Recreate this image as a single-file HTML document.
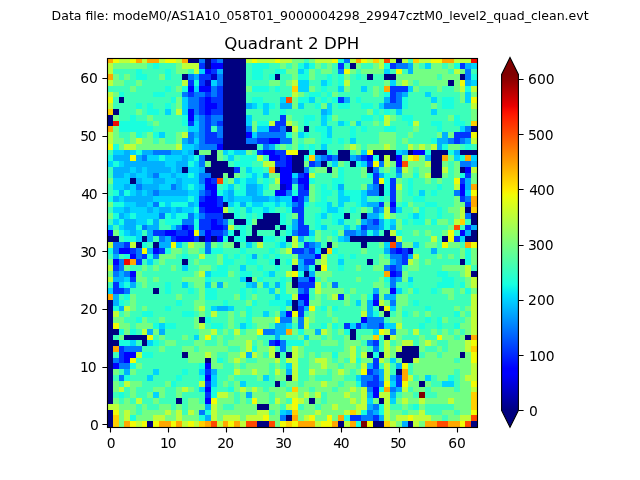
<!DOCTYPE html>
<html lang="en"><head><meta charset="utf-8"><title>Quadrant 2 DPH</title>
<style>html,body{margin:0;padding:0;background:#fff}svg{display:block}text{font-family:"DejaVu Sans","Liberation Sans",sans-serif;fill:#000}.t{font-size:13.89px}.ti{font-size:16.67px}.su{font-size:12.53px}</style></head>
<body><svg width="640" height="480" viewBox="0 0 640 480">
<rect width="640" height="480" fill="#fff"/>
<g shape-rendering="crispEdges">
<path fill="#000080" d="M188 58h11v5h-11zM205 58h6v5h-6zM223 58h23v5h-23zM396 58h6v5h-6zM205 63h6v6h-6zM223 63h23v6h-23zM350 63h6v6h-6zM223 69h23v5h-23zM182 74h6v6h-6zM223 74h23v6h-23zM275 74h5v6h-5zM367 74h6v6h-6zM384 74h12v6h-12zM460 74h5v6h-5zM223 80h23v6h-23zM448 80h6v6h-6zM223 86h23v6h-23zM223 92h23v5h-23zM119 97h5v6h-5zM223 97h23v6h-23zM223 103h23v6h-23zM113 109h6v6h-6zM223 109h23v6h-23zM107 115h6v6h-6zM223 115h23v6h-23zM107 121h6v5h-6zM223 121h23v5h-23zM223 126h23v6h-23zM286 126h6v6h-6zM304 126h5v6h-5zM471 126h7v6h-7zM223 132h23v6h-23zM223 138h23v6h-23zM223 144h34v6h-34zM194 150h5v5h-5zM211 150h6v5h-6zM298 150h11v5h-11zM315 150h12v5h-12zM338 150h12v5h-12zM373 150h23v5h-23zM408 150h5v5h-5zM431 150h17v5h-17zM460 150h18v5h-18zM205 155h12v6h-12zM292 155h12v6h-12zM338 155h12v6h-12zM379 155h5v6h-5zM390 155h6v6h-6zM431 155h11v6h-11zM211 161h17v6h-17zM292 161h12v6h-12zM321 161h6v6h-6zM350 161h6v6h-6zM431 161h11v6h-11zM182 167h6v6h-6zM205 167h29v6h-29zM275 167h5v6h-5zM292 167h12v6h-12zM327 167h5v6h-5zM367 167h6v6h-6zM431 167h11v6h-11zM460 167h5v6h-5zM211 173h12v5h-12zM228 173h6v5h-6zM431 173h11v5h-11zM130 178h6v6h-6zM379 184h5v6h-5zM379 190h5v6h-5zM223 202h5v5h-5zM465 207h6v6h-6zM223 213h11v6h-11zM263 213h17v6h-17zM344 213h6v6h-6zM361 213h6v6h-6zM471 213h7v6h-7zM234 219h12v6h-12zM257 219h23v6h-23zM471 219h7v6h-7zM252 225h23v5h-23zM280 225h6v5h-6zM234 230h6v6h-6zM252 230h5v6h-5zM275 230h5v6h-5zM384 230h6v6h-6zM471 230h7v6h-7zM107 236h12v6h-12zM142 236h5v6h-5zM199 236h6v6h-6zM211 236h6v6h-6zM228 236h6v6h-6zM246 236h17v6h-17zM286 236h6v6h-6zM350 236h46v6h-46zM442 236h6v6h-6zM465 236h13v6h-13zM136 242h6v6h-6zM153 242h6v6h-6zM234 242h6v6h-6zM327 242h5v6h-5zM361 242h6v6h-6zM321 248h6v6h-6zM182 259h6v6h-6zM275 259h5v6h-5zM367 259h6v6h-6zM460 259h5v6h-5zM292 265h6v6h-6zM315 265h6v6h-6zM304 271h5v6h-5zM471 271h7v6h-7zM246 277h6v5h-6zM292 277h6v5h-6zM292 282h6v6h-6zM153 288h6v6h-6zM107 300h6v6h-6zM292 300h6v6h-6zM107 306h6v5h-6zM292 306h6v5h-6zM379 306h5v5h-5zM107 311h6v6h-6zM384 311h6v6h-6zM107 317h6v6h-6zM199 317h6v6h-6zM107 323h6v6h-6zM107 329h12v6h-12zM350 329h6v6h-6zM107 335h6v5h-6zM124 335h23v5h-23zM350 335h6v5h-6zM384 335h6v5h-6zM465 335h6v5h-6zM107 340h12v6h-12zM142 340h5v6h-5zM107 346h6v6h-6zM402 346h17v6h-17zM107 352h6v6h-6zM182 352h6v6h-6zM275 352h5v6h-5zM286 352h6v6h-6zM367 352h6v6h-6zM379 352h5v6h-5zM396 352h23v6h-23zM460 352h5v6h-5zM107 358h6v5h-6zM205 358h6v5h-6zM402 358h11v5h-11zM107 363h6v6h-6zM107 369h6v6h-6zM396 369h6v6h-6zM107 375h6v6h-6zM286 375h6v6h-6zM107 381h6v6h-6zM275 381h5v6h-5zM419 381h6v6h-6zM107 387h6v5h-6zM107 392h6v6h-6zM107 398h6v6h-6zM176 398h6v6h-6zM309 398h6v6h-6zM379 398h5v6h-5zM257 404h12v6h-12zM107 410h6v5h-6zM107 415h6v6h-6zM286 415h6v6h-6zM107 421h6v7h-6zM147 421h6v7h-6zM257 421h12v7h-12zM338 421h6v7h-6zM373 421h11v7h-11zM408 421h5v7h-5zM471 421h7v7h-7z"/>
<path fill="#0000ff" d="M211 63h12v6h-12zM205 69h6v5h-6zM188 86h6v6h-6zM199 86h12v6h-12zM205 97h6v6h-6zM205 103h12v6h-12zM188 109h6v6h-6zM205 109h6v6h-6zM188 115h6v6h-6zM246 132h6v6h-6zM269 138h11v6h-11zM217 144h6v6h-6zM263 150h12v5h-12zM413 150h12v5h-12zM269 155h11v6h-11zM286 155h6v6h-6zM367 155h6v6h-6zM396 155h6v6h-6zM286 161h6v6h-6zM396 161h6v6h-6zM280 167h12v6h-12zM465 167h6v6h-6zM280 173h12v5h-12zM304 173h5v5h-5zM205 178h6v6h-6zM280 178h12v6h-12zM298 178h11v6h-11zM205 184h12v6h-12zM286 184h6v6h-6zM304 184h5v6h-5zM460 184h5v6h-5zM211 190h6v6h-6zM275 190h11v6h-11zM460 190h5v6h-5zM205 196h12v6h-12zM292 196h6v6h-6zM199 202h18v5h-18zM390 202h6v5h-6zM205 207h18v6h-18zM211 219h6v6h-6zM182 225h6v5h-6zM211 225h12v5h-12zM107 230h6v6h-6zM165 230h11v6h-11zM188 230h6v6h-6zM205 230h6v6h-6zM460 230h5v6h-5zM176 236h18v6h-18zM205 236h6v6h-6zM217 236h6v6h-6zM119 248h11v6h-11zM153 248h6v6h-6zM396 248h6v6h-6zM130 254h6v5h-6zM315 254h6v5h-6zM113 259h6v6h-6zM130 271h6v6h-6zM390 271h6v6h-6zM309 277h6v5h-6zM390 288h6v6h-6zM298 294h11v6h-11zM304 300h5v6h-5zM373 300h6v6h-6zM286 311h6v6h-6zM361 317h6v6h-6zM275 340h5v6h-5zM124 352h12v6h-12zM124 358h6v5h-6zM113 363h6v6h-6zM205 363h6v6h-6zM205 375h6v6h-6zM205 387h6v5h-6zM373 387h6v5h-6zM373 392h6v6h-6zM205 398h6v6h-6z"/>
<path fill="#0034ff" d="M211 58h6v5h-6zM199 63h6v6h-6zM338 63h6v6h-6zM390 63h6v6h-6zM460 63h5v6h-5zM211 69h6v5h-6zM199 74h12v6h-12zM188 80h6v6h-6zM199 80h6v6h-6zM217 86h6v6h-6zM390 86h18v6h-18zM188 92h6v5h-6zM205 92h6v5h-6zM217 92h6v5h-6zM390 92h6v5h-6zM199 97h6v6h-6zM211 97h12v6h-12zM338 97h6v6h-6zM390 97h6v6h-6zM199 103h6v6h-6zM217 103h6v6h-6zM199 109h6v6h-6zM211 109h12v6h-12zM205 115h6v6h-6zM280 115h6v6h-6zM188 121h6v5h-6zM205 121h6v5h-6zM217 121h6v5h-6zM275 121h11v5h-11zM205 126h6v6h-6zM269 126h11v6h-11zM205 132h12v6h-12zM454 132h17v6h-17zM205 138h18v6h-18zM257 138h12v6h-12zM454 138h6v6h-6zM257 150h6v5h-6zM275 150h11v5h-11zM280 155h6v6h-6zM327 155h5v6h-5zM361 155h6v6h-6zM275 161h11v6h-11zM309 161h6v6h-6zM367 161h6v6h-6zM234 167h6v6h-6zM298 173h6v5h-6zM373 173h6v5h-6zM465 173h6v5h-6zM211 178h6v6h-6zM373 178h6v6h-6zM390 178h6v6h-6zM460 178h5v6h-5zM298 184h6v6h-6zM390 184h6v6h-6zM205 190h6v6h-6zM298 190h11v6h-11zM390 190h6v6h-6zM199 196h6v6h-6zM217 196h6v6h-6zM298 196h6v6h-6zM390 196h6v6h-6zM460 196h5v6h-5zM217 202h6v5h-6zM298 202h6v5h-6zM379 202h5v5h-5zM465 202h6v5h-6zM199 207h6v6h-6zM292 207h12v6h-12zM390 207h6v6h-6zM205 213h18v6h-18zM298 213h6v6h-6zM199 219h12v6h-12zM217 219h6v6h-6zM298 219h6v6h-6zM373 219h6v6h-6zM188 225h6v5h-6zM199 225h12v5h-12zM223 225h5v5h-5zM298 225h11v5h-11zM361 225h6v5h-6zM465 225h6v5h-6zM153 230h12v6h-12zM176 230h12v6h-12zM211 230h12v6h-12zM298 230h11v6h-11zM171 236h5v6h-5zM194 236h5v6h-5zM454 236h6v6h-6zM124 242h6v6h-6zM304 242h5v6h-5zM130 248h6v6h-6zM159 248h6v6h-6zM292 248h12v6h-12zM309 248h6v6h-6zM390 248h6v6h-6zM402 248h6v6h-6zM142 254h5v5h-5zM402 254h6v5h-6zM136 259h6v6h-6zM304 259h11v6h-11zM402 259h6v6h-6zM113 265h6v6h-6zM390 265h6v6h-6zM396 271h6v6h-6zM130 277h6v5h-6zM113 282h6v6h-6zM298 282h17v6h-17zM113 288h11v6h-11zM304 288h5v6h-5zM338 294h6v6h-6zM373 294h6v6h-6zM298 306h6v5h-6zM298 311h6v6h-6zM344 323h6v6h-6zM356 323h5v6h-5zM379 323h5v6h-5zM269 340h6v6h-6zM373 340h6v6h-6zM119 346h5v6h-5zM119 352h5v6h-5zM119 358h5v5h-5zM373 358h6v5h-6zM373 363h6v6h-6zM205 369h6v6h-6zM367 369h6v6h-6zM373 375h6v6h-6zM396 375h6v6h-6zM205 381h6v6h-6zM367 381h12v6h-12zM396 381h6v6h-6zM205 392h6v6h-6zM350 415h11v6h-11zM373 415h6v6h-6z"/>
<path fill="#0078ff" d="M199 58h6v5h-6zM217 58h6v5h-6zM344 58h6v5h-6zM396 63h12v6h-12zM338 69h6v5h-6zM465 69h6v5h-6zM188 74h6v6h-6zM217 74h6v6h-6zM465 74h6v6h-6zM217 80h6v6h-6zM211 86h6v6h-6zM182 92h6v5h-6zM194 92h11v5h-11zM211 92h6v5h-6zM396 92h6v5h-6zM188 97h11v6h-11zM396 97h6v6h-6zM188 103h11v6h-11zM384 103h18v6h-18zM194 109h5v6h-5zM199 115h6v6h-6zM211 115h12v6h-12zM199 121h6v5h-6zM211 121h6v5h-6zM199 126h6v6h-6zM217 126h6v6h-6zM246 126h6v6h-6zM280 126h6v6h-6zM465 126h6v6h-6zM188 132h6v6h-6zM199 132h6v6h-6zM217 132h6v6h-6zM257 132h29v6h-29zM188 138h6v6h-6zM199 138h6v6h-6zM246 138h11v6h-11zM280 138h12v6h-12zM448 138h6v6h-6zM460 138h5v6h-5zM199 144h18v6h-18zM263 144h6v6h-6zM153 150h18v5h-18zM142 155h5v6h-5zM199 155h6v6h-6zM321 155h6v6h-6zM332 155h6v6h-6zM356 155h5v6h-5zM199 161h6v6h-6zM315 161h6v6h-6zM379 161h5v6h-5zM460 161h11v6h-11zM304 167h5v6h-5zM373 167h6v6h-6zM396 167h6v6h-6zM153 173h6v5h-6zM199 173h12v5h-12zM199 178h6v6h-6zM292 178h6v6h-6zM136 184h6v6h-6zM171 184h5v6h-5zM373 184h6v6h-6zM153 190h6v6h-6zM199 190h6v6h-6zM286 190h6v6h-6zM367 190h12v6h-12zM454 190h6v6h-6zM465 196h6v6h-6zM153 202h6v5h-6zM292 202h6v5h-6zM373 207h6v6h-6zM159 213h6v6h-6zM188 213h6v6h-6zM199 213h6v6h-6zM465 213h6v6h-6zM182 219h12v6h-12zM223 219h5v6h-5zM367 219h6v6h-6zM142 225h5v5h-5zM176 225h6v5h-6zM367 225h12v5h-12zM199 230h6v6h-6zM223 230h5v6h-5zM292 230h6v6h-6zM344 230h12v6h-12zM361 230h6v6h-6zM159 236h6v6h-6zM113 242h11v6h-11zM205 242h6v6h-6zM309 242h6v6h-6zM396 242h6v6h-6zM113 248h6v6h-6zM136 248h6v6h-6zM205 248h6v6h-6zM304 248h5v6h-5zM136 254h6v5h-6zM153 254h6v5h-6zM298 254h17v5h-17zM390 254h12v5h-12zM119 259h5v6h-5zM396 259h6v6h-6zM119 265h5v6h-5zM304 265h5v6h-5zM384 265h6v6h-6zM396 265h6v6h-6zM113 271h6v6h-6zM124 271h6v6h-6zM298 277h11v5h-11zM390 277h6v5h-6zM332 282h6v6h-6zM390 282h6v6h-6zM124 288h6v6h-6zM298 288h6v6h-6zM298 300h6v6h-6zM390 300h6v6h-6zM280 317h12v6h-12zM298 317h6v6h-6zM367 317h17v6h-17zM298 323h6v6h-6zM367 323h12v6h-12zM263 329h12v6h-12zM390 329h6v6h-6zM280 340h6v6h-6zM367 340h6v6h-6zM124 346h18v6h-18zM280 346h6v6h-6zM373 346h6v6h-6zM113 358h6v5h-6zM119 363h11v6h-11zM373 369h6v6h-6zM119 375h5v6h-5zM361 375h12v6h-12zM361 381h6v6h-6zM379 381h5v6h-5zM367 387h6v5h-6zM390 387h6v5h-6zM373 404h6v6h-6zM199 410h6v5h-6zM367 410h6v5h-6zM280 415h6v6h-6zM361 415h12v6h-12z"/>
<path fill="#00b0ff" d="M408 63h5v6h-5zM465 63h6v6h-6zM217 69h6v5h-6zM408 69h5v5h-5zM194 74h5v6h-5zM465 80h6v6h-6zM402 92h6v5h-6zM344 97h6v6h-6zM384 97h6v6h-6zM246 103h6v6h-6zM280 103h12v6h-12zM321 109h6v6h-6zM194 115h5v6h-5zM194 132h5v6h-5zM442 132h6v6h-6zM182 138h6v6h-6zM437 138h11v6h-11zM465 138h6v6h-6zM194 144h5v6h-5zM269 144h6v6h-6zM437 144h5v6h-5zM124 150h6v5h-6zM142 150h11v5h-11zM171 150h11v5h-11zM188 150h6v5h-6zM402 150h6v5h-6zM454 150h6v5h-6zM113 155h17v6h-17zM136 155h6v6h-6zM182 155h6v6h-6zM315 155h6v6h-6zM350 155h6v6h-6zM425 155h6v6h-6zM124 161h41v6h-41zM176 161h12v6h-12zM471 161h7v6h-7zM113 167h17v6h-17zM136 167h6v6h-6zM147 167h24v6h-24zM176 167h6v6h-6zM199 167h6v6h-6zM113 173h11v5h-11zM130 173h6v5h-6zM147 173h6v5h-6zM171 173h5v5h-5zM263 173h6v5h-6zM379 173h5v5h-5zM396 173h6v5h-6zM136 178h6v6h-6zM153 178h12v6h-12zM176 178h6v6h-6zM465 178h6v6h-6zM124 184h6v6h-6zM142 184h17v6h-17zM176 184h6v6h-6zM199 184h6v6h-6zM246 184h11v6h-11zM338 184h6v6h-6zM367 184h6v6h-6zM465 184h6v6h-6zM119 190h5v6h-5zM136 190h6v6h-6zM147 190h6v6h-6zM159 190h29v6h-29zM228 190h6v6h-6zM246 190h11v6h-11zM113 196h6v6h-6zM124 196h29v6h-29zM228 196h6v6h-6zM252 196h17v6h-17zM275 196h5v6h-5zM304 196h5v6h-5zM136 202h11v5h-11zM188 202h6v5h-6zM240 202h6v5h-6zM367 202h12v5h-12zM124 207h6v6h-6zM147 207h6v6h-6zM159 207h12v6h-12zM176 207h6v6h-6zM379 207h5v6h-5zM119 213h5v6h-5zM367 213h12v6h-12zM124 219h12v6h-12zM153 219h6v6h-6zM292 219h6v6h-6zM361 219h6v6h-6zM379 219h5v6h-5zM124 225h12v5h-12zM147 225h12v5h-12zM292 225h6v5h-6zM379 225h5v5h-5zM390 225h6v5h-6zM471 225h7v5h-7zM130 230h6v6h-6zM147 230h6v6h-6zM356 230h5v6h-5zM373 230h6v6h-6zM465 230h6v6h-6zM147 236h6v6h-6zM165 236h6v6h-6zM298 236h6v6h-6zM344 236h6v6h-6zM159 242h12v6h-12zM315 242h6v6h-6zM147 248h6v6h-6zM384 248h6v6h-6zM431 248h6v6h-6zM113 254h6v5h-6zM252 254h5v5h-5zM408 254h5v5h-5zM298 259h6v6h-6zM390 259h6v6h-6zM298 265h6v6h-6zM119 271h5v6h-5zM309 271h6v6h-6zM113 277h11v5h-11zM396 277h6v5h-6zM130 282h6v6h-6zM217 282h6v6h-6zM252 282h5v6h-5zM275 282h5v6h-5zM373 288h6v6h-6zM113 294h6v6h-6zM384 294h12v6h-12zM113 300h6v6h-6zM367 300h6v6h-6zM119 306h5v5h-5zM217 306h11v5h-11zM304 306h5v5h-5zM367 306h6v5h-6zM280 311h6v6h-6zM367 311h6v6h-6zM275 323h11v6h-11zM361 323h6v6h-6zM147 329h6v6h-6zM159 329h6v6h-6zM275 329h11v6h-11zM315 329h6v6h-6zM275 335h5v5h-5zM246 352h6v6h-6zM367 363h6v6h-6zM396 363h6v6h-6zM124 369h6v6h-6zM211 369h6v6h-6zM286 369h6v6h-6zM379 369h5v6h-5zM379 375h5v6h-5zM390 375h6v6h-6zM396 387h6v5h-6zM246 392h6v6h-6zM367 392h6v6h-6zM390 392h6v6h-6zM205 404h6v6h-6zM367 404h6v6h-6zM286 410h6v5h-6zM373 410h6v5h-6zM205 415h6v6h-6zM379 415h5v6h-5zM402 421h6v7h-6z"/>
<path fill="#00d4ff" d="M304 63h5v6h-5zM425 63h6v6h-6zM471 63h7v6h-7zM199 69h6v5h-6zM298 69h6v5h-6zM384 69h6v5h-6zM211 80h6v6h-6zM298 80h11v6h-11zM321 80h6v6h-6zM390 80h6v6h-6zM471 80h7v6h-7zM194 86h5v6h-5zM298 86h11v6h-11zM338 86h6v6h-6zM361 86h6v6h-6zM408 86h5v6h-5zM425 92h6v5h-6zM465 92h6v5h-6zM182 97h6v6h-6zM280 97h6v6h-6zM309 97h6v6h-6zM431 97h6v6h-6zM465 97h6v6h-6zM182 103h6v6h-6zM252 103h5v6h-5zM263 103h6v6h-6zM298 103h6v6h-6zM327 103h5v6h-5zM379 103h5v6h-5zM165 109h6v6h-6zM182 109h6v6h-6zM263 109h6v6h-6zM327 109h5v6h-5zM396 109h6v6h-6zM431 109h6v6h-6zM246 115h6v6h-6zM321 115h6v6h-6zM194 121h5v5h-5zM246 121h6v5h-6zM321 121h6v5h-6zM338 121h6v5h-6zM356 121h5v5h-5zM188 126h11v6h-11zM257 126h12v6h-12zM327 126h5v6h-5zM460 126h5v6h-5zM159 132h6v6h-6zM252 132h5v6h-5zM298 132h6v6h-6zM327 132h5v6h-5zM194 138h5v6h-5zM350 138h6v6h-6zM182 144h12v6h-12zM321 144h6v6h-6zM113 150h11v5h-11zM130 150h6v5h-6zM182 150h6v5h-6zM223 150h5v5h-5zM234 150h12v5h-12zM361 150h6v5h-6zM396 150h6v5h-6zM147 155h12v6h-12zM165 155h17v6h-17zM188 155h6v6h-6zM228 155h6v6h-6zM454 155h6v6h-6zM471 155h7v6h-7zM107 161h6v6h-6zM119 161h5v6h-5zM165 161h11v6h-11zM194 161h5v6h-5zM332 161h6v6h-6zM361 161h6v6h-6zM130 167h6v6h-6zM142 167h5v6h-5zM171 167h5v6h-5zM188 167h11v6h-11zM246 167h6v6h-6zM124 173h6v5h-6zM136 173h11v5h-11zM159 173h12v5h-12zM176 173h12v5h-12zM194 173h5v5h-5zM252 173h5v5h-5zM292 173h6v5h-6zM113 178h17v6h-17zM142 178h11v6h-11zM165 178h11v6h-11zM182 178h17v6h-17zM234 178h6v6h-6zM246 178h11v6h-11zM113 184h11v6h-11zM130 184h6v6h-6zM159 184h12v6h-12zM182 184h6v6h-6zM194 184h5v6h-5zM228 184h6v6h-6zM257 184h6v6h-6zM130 190h6v6h-6zM142 190h5v6h-5zM188 190h11v6h-11zM223 190h5v6h-5zM257 190h6v6h-6zM338 190h6v6h-6zM361 190h6v6h-6zM419 190h6v6h-6zM465 190h6v6h-6zM119 196h5v6h-5zM153 196h35v6h-35zM194 196h5v6h-5zM223 196h5v6h-5zM234 196h18v6h-18zM269 196h6v6h-6zM280 196h12v6h-12zM338 196h12v6h-12zM361 196h6v6h-6zM124 202h12v5h-12zM147 202h6v5h-6zM165 202h6v5h-6zM194 202h5v5h-5zM228 202h6v5h-6zM252 202h11v5h-11zM275 202h5v5h-5zM286 202h6v5h-6zM327 202h5v5h-5zM338 202h6v5h-6zM361 202h6v5h-6zM113 207h11v6h-11zM130 207h17v6h-17zM153 207h6v6h-6zM171 207h5v6h-5zM182 207h12v6h-12zM246 207h6v6h-6zM263 207h6v6h-6zM327 207h11v6h-11zM396 207h6v6h-6zM124 213h6v6h-6zM136 213h23v6h-23zM171 213h5v6h-5zM194 213h5v6h-5zM321 213h6v6h-6zM413 213h6v6h-6zM113 219h6v6h-6zM136 219h11v6h-11zM338 219h6v6h-6zM390 219h6v6h-6zM107 225h6v5h-6zM119 225h5v5h-5zM171 225h5v5h-5zM321 225h6v5h-6zM344 225h6v5h-6zM356 225h5v5h-5zM124 230h6v6h-6zM136 230h6v6h-6zM309 230h6v6h-6zM136 236h6v6h-6zM338 236h6v6h-6zM460 236h5v6h-5zM176 242h6v6h-6zM246 242h6v6h-6zM280 242h6v6h-6zM384 242h6v6h-6zM413 242h6v6h-6zM315 248h6v6h-6zM147 259h6v6h-6zM338 259h6v6h-6zM182 265h6v6h-6zM240 265h6v6h-6zM205 271h6v6h-6zM269 271h6v6h-6zM124 277h6v5h-6zM240 277h6v5h-6zM408 277h5v5h-5zM119 282h5v6h-5zM182 282h6v6h-6zM205 282h6v6h-6zM246 282h6v6h-6zM263 282h6v6h-6zM107 288h6v6h-6zM269 288h6v6h-6zM396 288h6v6h-6zM275 294h5v6h-5zM286 300h6v6h-6zM356 300h5v6h-5zM211 306h6v5h-6zM228 306h6v5h-6zM390 306h6v5h-6zM263 311h6v6h-6zM159 323h6v6h-6zM240 323h6v6h-6zM286 323h6v6h-6zM350 323h6v6h-6zM384 323h12v6h-12zM373 329h6v6h-6zM194 335h5v5h-5zM304 335h5v5h-5zM130 340h6v6h-6zM147 340h6v6h-6zM390 358h6v5h-6zM286 363h6v6h-6zM153 369h6v6h-6zM199 369h6v6h-6zM147 375h6v6h-6zM211 375h6v6h-6zM263 375h6v6h-6zM356 375h5v6h-5zM425 375h6v6h-6zM211 381h6v6h-6zM240 381h6v6h-6zM390 381h6v6h-6zM442 381h12v6h-12zM199 387h6v5h-6zM153 392h6v6h-6zM367 398h6v6h-6zM390 398h6v6h-6zM280 410h6v5h-6z"/>
<path fill="#19ffde" d="M338 58h6v5h-6zM153 63h6v6h-6zM252 63h17v6h-17zM298 63h6v6h-6zM309 63h6v6h-6zM384 63h6v6h-6zM454 63h6v6h-6zM136 69h6v5h-6zM165 69h6v5h-6zM252 69h11v5h-11zM275 69h11v5h-11zM304 69h5v5h-5zM136 74h11v6h-11zM165 74h6v6h-6zM252 74h11v6h-11zM269 74h6v6h-6zM298 74h11v6h-11zM327 74h5v6h-5zM338 74h6v6h-6zM356 74h5v6h-5zM471 74h7v6h-7zM194 80h5v6h-5zM327 80h5v6h-5zM338 80h6v6h-6zM165 86h6v6h-6zM182 86h6v6h-6zM252 86h17v6h-17zM275 86h5v6h-5zM321 86h6v6h-6zM465 86h6v6h-6zM119 92h5v5h-5zM153 92h12v5h-12zM309 92h12v5h-12zM327 92h5v5h-5zM384 92h6v5h-6zM171 97h5v6h-5zM252 97h11v6h-11zM298 97h11v6h-11zM321 97h6v6h-6zM332 97h6v6h-6zM356 97h5v6h-5zM402 97h6v6h-6zM442 97h12v6h-12zM136 103h6v6h-6zM147 103h6v6h-6zM165 103h6v6h-6zM257 103h6v6h-6zM269 103h6v6h-6zM315 103h6v6h-6zM338 103h12v6h-12zM361 103h12v6h-12zM402 103h6v6h-6zM442 103h12v6h-12zM147 109h12v6h-12zM280 109h6v6h-6zM373 109h6v6h-6zM384 109h6v6h-6zM130 115h6v6h-6zM182 115h6v6h-6zM304 115h11v6h-11zM327 115h5v6h-5zM361 115h12v6h-12zM379 115h5v6h-5zM402 115h11v6h-11zM454 115h6v6h-6zM119 121h28v5h-28zM182 121h6v5h-6zM257 121h12v5h-12zM304 121h5v5h-5zM344 121h6v5h-6zM408 121h5v5h-5zM431 121h11v5h-11zM454 121h11v5h-11zM119 126h34v6h-34zM315 126h12v6h-12zM350 126h6v6h-6zM361 126h6v6h-6zM384 126h12v6h-12zM437 126h5v6h-5zM136 132h6v6h-6zM153 132h6v6h-6zM286 132h6v6h-6zM304 132h5v6h-5zM321 132h6v6h-6zM350 132h6v6h-6zM321 138h11v6h-11zM338 138h6v6h-6zM431 138h6v6h-6zM113 144h6v6h-6zM298 144h6v6h-6zM309 144h6v6h-6zM442 144h6v6h-6zM465 144h6v6h-6zM136 150h6v5h-6zM228 150h6v5h-6zM309 150h6v5h-6zM327 150h5v5h-5zM425 150h6v5h-6zM448 150h6v5h-6zM107 155h6v6h-6zM159 155h6v6h-6zM194 155h5v6h-5zM240 155h17v6h-17zM304 155h5v6h-5zM373 155h6v6h-6zM460 155h5v6h-5zM113 161h6v6h-6zM188 161h6v6h-6zM234 161h18v6h-18zM356 161h5v6h-5zM252 167h11v6h-11zM338 167h6v6h-6zM188 173h6v5h-6zM246 173h6v5h-6zM257 173h6v5h-6zM338 173h6v5h-6zM367 173h6v5h-6zM384 173h6v5h-6zM413 173h6v5h-6zM460 173h5v5h-5zM240 178h6v6h-6zM263 178h6v6h-6zM309 178h6v6h-6zM332 178h12v6h-12zM384 178h6v6h-6zM408 178h5v6h-5zM188 184h6v6h-6zM223 184h5v6h-5zM240 184h6v6h-6zM263 184h6v6h-6zM321 184h6v6h-6zM332 184h6v6h-6zM384 184h6v6h-6zM408 184h5v6h-5zM437 184h5v6h-5zM113 190h6v6h-6zM124 190h6v6h-6zM217 190h6v6h-6zM234 190h12v6h-12zM292 190h6v6h-6zM321 190h11v6h-11zM344 190h17v6h-17zM384 190h6v6h-6zM408 190h5v6h-5zM431 190h6v6h-6zM107 196h6v6h-6zM188 196h6v6h-6zM321 196h6v6h-6zM350 196h11v6h-11zM379 196h5v6h-5zM413 196h12v6h-12zM113 202h11v5h-11zM159 202h6v5h-6zM171 202h17v5h-17zM234 202h6v5h-6zM246 202h6v5h-6zM263 202h12v5h-12zM280 202h6v5h-6zM304 202h5v5h-5zM315 202h12v5h-12zM356 202h5v5h-5zM402 202h6v5h-6zM425 202h12v5h-12zM194 207h5v6h-5zM234 207h6v6h-6zM252 207h11v6h-11zM269 207h6v6h-6zM286 207h6v6h-6zM321 207h6v6h-6zM338 207h6v6h-6zM350 207h6v6h-6zM419 207h6v6h-6zM437 207h5v6h-5zM113 213h6v6h-6zM130 213h6v6h-6zM165 213h6v6h-6zM176 213h12v6h-12zM234 213h6v6h-6zM246 213h6v6h-6zM257 213h6v6h-6zM280 213h6v6h-6zM315 213h6v6h-6zM332 213h12v6h-12zM379 213h5v6h-5zM408 213h5v6h-5zM419 213h6v6h-6zM437 213h5v6h-5zM119 219h5v6h-5zM147 219h6v6h-6zM165 219h17v6h-17zM194 219h5v6h-5zM246 219h6v6h-6zM280 219h6v6h-6zM315 219h6v6h-6zM332 219h6v6h-6zM384 219h6v6h-6zM402 219h6v6h-6zM413 219h12v6h-12zM431 219h6v6h-6zM136 225h6v5h-6zM194 225h5v5h-5zM240 225h6v5h-6zM286 225h6v5h-6zM315 225h6v5h-6zM384 225h6v5h-6zM119 230h5v6h-5zM228 230h6v6h-6zM240 230h6v6h-6zM286 230h6v6h-6zM332 230h6v6h-6zM367 230h6v6h-6zM396 230h6v6h-6zM124 236h12v6h-12zM223 236h5v6h-5zM234 236h12v6h-12zM263 236h12v6h-12zM280 236h6v6h-6zM309 236h6v6h-6zM142 242h5v6h-5zM275 242h5v6h-5zM107 248h6v6h-6zM165 248h6v6h-6zM211 248h12v6h-12zM240 248h6v6h-6zM269 248h6v6h-6zM332 248h6v6h-6zM465 248h6v6h-6zM124 254h6v5h-6zM147 254h6v5h-6zM182 254h6v5h-6zM223 254h5v5h-5zM234 254h6v5h-6zM246 254h6v5h-6zM263 254h6v5h-6zM275 254h5v5h-5zM338 254h6v5h-6zM350 254h6v5h-6zM465 254h6v5h-6zM223 259h11v6h-11zM246 259h11v6h-11zM269 259h6v6h-6zM286 259h6v6h-6zM465 259h6v6h-6zM217 265h11v6h-11zM257 265h6v6h-6zM275 265h5v6h-5zM309 265h6v6h-6zM338 265h6v6h-6zM211 271h17v6h-17zM240 271h12v6h-12zM263 271h6v6h-6zM298 271h6v6h-6zM437 271h11v6h-11zM205 277h6v5h-6zM257 277h6v5h-6zM280 277h6v5h-6zM384 277h6v5h-6zM442 277h12v5h-12zM124 282h6v6h-6zM165 282h6v6h-6zM280 282h6v6h-6zM408 282h5v6h-5zM437 282h17v6h-17zM460 282h5v6h-5zM165 288h6v6h-6zM188 288h6v6h-6zM205 288h12v6h-12zM240 288h6v6h-6zM252 288h5v6h-5zM280 288h6v6h-6zM413 288h6v6h-6zM431 288h6v6h-6zM465 288h6v6h-6zM124 294h6v6h-6zM205 294h12v6h-12zM240 294h6v6h-6zM280 294h12v6h-12zM367 294h6v6h-6zM119 300h5v6h-5zM176 300h6v6h-6zM223 300h5v6h-5zM252 300h5v6h-5zM269 300h17v6h-17zM413 300h6v6h-6zM113 306h6v5h-6zM165 306h6v5h-6zM246 306h6v5h-6zM280 306h6v5h-6zM321 306h6v5h-6zM332 306h6v5h-6zM425 306h6v5h-6zM142 311h11v6h-11zM182 311h12v6h-12zM246 311h6v6h-6zM373 311h6v6h-6zM402 311h6v6h-6zM454 311h6v6h-6zM136 317h6v6h-6zM205 317h6v6h-6zM246 317h6v6h-6zM425 317h6v6h-6zM437 317h5v6h-5zM153 323h6v6h-6zM165 323h11v6h-11zM211 323h12v6h-12zM246 323h6v6h-6zM321 323h6v6h-6zM332 323h6v6h-6zM419 323h6v6h-6zM437 323h5v6h-5zM454 323h6v6h-6zM119 329h5v6h-5zM130 329h6v6h-6zM298 329h6v6h-6zM344 329h6v6h-6zM119 340h11v6h-11zM153 340h6v6h-6zM286 340h18v6h-18zM252 346h5v6h-5zM142 352h11v6h-11zM332 352h6v6h-6zM373 352h6v6h-6zM217 358h6v5h-6zM356 358h5v5h-5zM130 363h6v6h-6zM199 363h6v6h-6zM182 369h6v6h-6zM124 375h6v6h-6zM176 375h6v6h-6zM199 375h6v6h-6zM448 375h6v6h-6zM171 381h5v6h-5zM356 381h5v6h-5zM211 387h6v5h-6zM228 387h6v5h-6zM379 387h5v5h-5zM119 392h5v6h-5zM211 392h6v6h-6zM379 404h5v6h-5zM413 404h6v6h-6zM205 410h6v5h-6zM361 410h6v5h-6zM379 410h5v5h-5zM130 415h6v6h-6zM199 415h6v6h-6zM344 415h6v6h-6zM356 421h5v7h-5z"/>
<path fill="#3cffba" d="M304 58h5v5h-5zM408 58h5v5h-5zM147 63h6v6h-6zM159 63h17v6h-17zM246 63h6v6h-6zM269 63h11v6h-11zM286 63h6v6h-6zM321 63h6v6h-6zM332 63h6v6h-6zM344 63h6v6h-6zM361 63h12v6h-12zM419 63h6v6h-6zM442 63h6v6h-6zM113 69h23v5h-23zM142 69h23v5h-23zM171 69h5v5h-5zM188 69h6v5h-6zM246 69h6v5h-6zM263 69h12v5h-12zM315 69h6v5h-6zM332 69h6v5h-6zM356 69h5v5h-5zM390 69h6v5h-6zM402 69h6v5h-6zM448 69h6v5h-6zM471 69h7v5h-7zM119 74h5v6h-5zM130 74h6v6h-6zM147 74h12v6h-12zM171 74h11v6h-11zM246 74h6v6h-6zM263 74h6v6h-6zM280 74h12v6h-12zM315 74h12v6h-12zM332 74h6v6h-6zM350 74h6v6h-6zM361 74h6v6h-6zM373 74h11v6h-11zM437 74h5v6h-5zM124 80h12v6h-12zM142 80h40v6h-40zM246 80h23v6h-23zM280 80h6v6h-6zM309 80h12v6h-12zM332 80h6v6h-6zM350 80h34v6h-34zM413 80h6v6h-6zM107 86h23v6h-23zM136 86h29v6h-29zM171 86h5v6h-5zM269 86h6v6h-6zM280 86h12v6h-12zM315 86h6v6h-6zM327 86h11v6h-11zM350 86h11v6h-11zM367 86h6v6h-6zM379 86h5v6h-5zM419 86h18v6h-18zM442 86h12v6h-12zM124 92h29v5h-29zM165 92h17v5h-17zM246 92h46v5h-46zM304 92h5v5h-5zM321 92h6v5h-6zM338 92h35v5h-35zM379 92h5v5h-5zM408 92h17v5h-17zM431 92h29v5h-29zM113 97h6v6h-6zM124 97h47v6h-47zM246 97h6v6h-6zM263 97h17v6h-17zM315 97h6v6h-6zM327 97h5v6h-5zM350 97h6v6h-6zM361 97h23v6h-23zM408 97h23v6h-23zM437 97h5v6h-5zM454 97h6v6h-6zM113 103h23v6h-23zM142 103h5v6h-5zM153 103h12v6h-12zM171 103h5v6h-5zM275 103h5v6h-5zM304 103h11v6h-11zM332 103h6v6h-6zM350 103h11v6h-11zM373 103h6v6h-6zM408 103h23v6h-23zM437 103h5v6h-5zM454 103h17v6h-17zM119 109h17v6h-17zM142 109h5v6h-5zM159 109h6v6h-6zM171 109h5v6h-5zM246 109h17v6h-17zM269 109h11v6h-11zM286 109h35v6h-35zM332 109h35v6h-35zM379 109h5v6h-5zM390 109h6v6h-6zM402 109h29v6h-29zM437 109h34v6h-34zM119 115h11v6h-11zM136 115h11v6h-11zM153 115h29v6h-29zM252 115h28v6h-28zM292 115h12v6h-12zM315 115h6v6h-6zM338 115h23v6h-23zM373 115h6v6h-6zM396 115h6v6h-6zM413 115h35v6h-35zM460 115h11v6h-11zM147 121h6v5h-6zM159 121h23v5h-23zM298 121h6v5h-6zM309 121h12v5h-12zM327 121h11v5h-11zM361 121h12v5h-12zM379 121h5v5h-5zM390 121h18v5h-18zM419 121h12v5h-12zM442 121h12v5h-12zM465 121h6v5h-6zM153 126h35v6h-35zM211 126h6v6h-6zM298 126h6v6h-6zM309 126h6v6h-6zM332 126h18v6h-18zM356 126h5v6h-5zM367 126h17v6h-17zM396 126h17v6h-17zM419 126h18v6h-18zM442 126h18v6h-18zM119 132h11v6h-11zM142 132h5v6h-5zM165 132h11v6h-11zM309 132h12v6h-12zM332 132h18v6h-18zM356 132h23v6h-23zM396 132h12v6h-12zM413 132h24v6h-24zM124 138h6v6h-6zM153 138h6v6h-6zM165 138h11v6h-11zM298 138h6v6h-6zM315 138h6v6h-6zM332 138h6v6h-6zM344 138h6v6h-6zM356 138h23v6h-23zM396 138h6v6h-6zM408 138h23v6h-23zM257 144h6v6h-6zM275 144h5v6h-5zM286 144h6v6h-6zM304 144h5v6h-5zM315 144h6v6h-6zM327 144h17v6h-17zM361 144h6v6h-6zM396 144h12v6h-12zM460 144h5v6h-5zM471 144h7v6h-7zM107 150h6v5h-6zM252 150h5v5h-5zM332 150h6v5h-6zM350 150h6v5h-6zM223 155h5v6h-5zM234 155h6v6h-6zM263 155h6v6h-6zM228 161h6v6h-6zM252 161h11v6h-11zM327 161h5v6h-5zM344 161h6v6h-6zM448 161h6v6h-6zM107 167h6v6h-6zM240 167h6v6h-6zM263 167h6v6h-6zM309 167h6v6h-6zM344 167h17v6h-17zM379 167h5v6h-5zM390 167h6v6h-6zM413 167h6v6h-6zM448 167h6v6h-6zM107 173h6v5h-6zM240 173h6v5h-6zM315 173h17v5h-17zM344 173h17v5h-17zM390 173h6v5h-6zM448 173h6v5h-6zM223 178h5v6h-5zM257 178h6v6h-6zM269 178h6v6h-6zM315 178h17v6h-17zM344 178h29v6h-29zM402 178h6v6h-6zM413 178h12v6h-12zM431 178h6v6h-6zM442 178h12v6h-12zM107 184h6v6h-6zM217 184h6v6h-6zM234 184h6v6h-6zM292 184h6v6h-6zM315 184h6v6h-6zM327 184h5v6h-5zM344 184h17v6h-17zM402 184h6v6h-6zM413 184h24v6h-24zM442 184h12v6h-12zM107 190h6v6h-6zM263 190h12v6h-12zM315 190h6v6h-6zM332 190h6v6h-6zM402 190h6v6h-6zM413 190h6v6h-6zM425 190h6v6h-6zM437 190h17v6h-17zM315 196h6v6h-6zM327 196h11v6h-11zM367 196h12v6h-12zM384 196h6v6h-6zM402 196h11v6h-11zM425 196h29v6h-29zM309 202h6v5h-6zM332 202h6v5h-6zM344 202h12v5h-12zM396 202h6v5h-6zM413 202h12v5h-12zM437 202h17v5h-17zM107 207h6v6h-6zM228 207h6v6h-6zM240 207h6v6h-6zM275 207h11v6h-11zM304 207h17v6h-17zM344 207h6v6h-6zM356 207h5v6h-5zM367 207h6v6h-6zM402 207h11v6h-11zM425 207h12v6h-12zM442 207h6v6h-6zM240 213h6v6h-6zM252 213h5v6h-5zM286 213h6v6h-6zM304 213h11v6h-11zM327 213h5v6h-5zM350 213h11v6h-11zM396 213h12v6h-12zM425 213h12v6h-12zM442 213h12v6h-12zM107 219h6v6h-6zM159 219h6v6h-6zM228 219h6v6h-6zM286 219h6v6h-6zM304 219h11v6h-11zM321 219h11v6h-11zM344 219h12v6h-12zM408 219h5v6h-5zM448 219h6v6h-6zM465 219h6v6h-6zM113 225h6v5h-6zM159 225h12v5h-12zM234 225h6v5h-6zM246 225h6v5h-6zM275 225h5v5h-5zM309 225h6v5h-6zM327 225h17v5h-17zM350 225h6v5h-6zM402 225h46v5h-46zM460 225h5v5h-5zM142 230h5v6h-5zM246 230h6v6h-6zM257 230h18v6h-18zM280 230h6v6h-6zM321 230h11v6h-11zM379 230h5v6h-5zM402 230h11v6h-11zM419 230h6v6h-6zM431 230h11v6h-11zM454 230h6v6h-6zM119 236h5v6h-5zM153 236h6v6h-6zM275 236h5v6h-5zM304 236h5v6h-5zM321 236h6v6h-6zM332 236h6v6h-6zM402 236h29v6h-29zM437 236h5v6h-5zM147 242h6v6h-6zM182 242h6v6h-6zM217 242h6v6h-6zM240 242h6v6h-6zM252 242h5v6h-5zM263 242h12v6h-12zM286 242h6v6h-6zM298 242h6v6h-6zM321 242h6v6h-6zM338 242h23v6h-23zM367 242h12v6h-12zM419 242h6v6h-6zM437 242h5v6h-5zM460 242h5v6h-5zM182 248h6v6h-6zM199 248h6v6h-6zM223 248h17v6h-17zM246 248h23v6h-23zM275 248h5v6h-5zM338 248h23v6h-23zM367 248h17v6h-17zM413 248h18v6h-18zM437 248h23v6h-23zM107 254h6v5h-6zM119 254h5v5h-5zM176 254h6v5h-6zM188 254h11v5h-11zM205 254h12v5h-12zM228 254h6v5h-6zM240 254h6v5h-6zM257 254h6v5h-6zM269 254h6v5h-6zM280 254h12v5h-12zM327 254h11v5h-11zM344 254h6v5h-6zM356 254h23v5h-23zM384 254h6v5h-6zM419 254h18v5h-18zM442 254h6v5h-6zM454 254h6v5h-6zM142 259h5v6h-5zM153 259h6v6h-6zM165 259h17v6h-17zM188 259h6v6h-6zM199 259h18v6h-18zM234 259h12v6h-12zM257 259h12v6h-12zM280 259h6v6h-6zM327 259h11v6h-11zM344 259h23v6h-23zM373 259h6v6h-6zM419 259h6v6h-6zM431 259h29v6h-29zM130 265h12v6h-12zM147 265h6v6h-6zM159 265h12v6h-12zM176 265h6v6h-6zM188 265h11v6h-11zM211 265h6v6h-6zM228 265h12v6h-12zM246 265h11v6h-11zM263 265h12v6h-12zM280 265h12v6h-12zM327 265h11v6h-11zM344 265h12v6h-12zM361 265h12v6h-12zM402 265h6v6h-6zM419 265h23v6h-23zM471 265h7v6h-7zM142 271h52v6h-52zM234 271h6v6h-6zM252 271h11v6h-11zM275 271h11v6h-11zM332 271h52v6h-52zM408 271h29v6h-29zM448 271h12v6h-12zM147 277h6v5h-6zM159 277h23v5h-23zM211 277h29v5h-29zM263 277h17v5h-17zM286 277h6v5h-6zM315 277h6v5h-6zM327 277h29v5h-29zM361 277h18v5h-18zM413 277h29v5h-29zM454 277h11v5h-11zM107 282h6v6h-6zM136 282h6v6h-6zM147 282h18v6h-18zM171 282h11v6h-11zM188 282h6v6h-6zM228 282h18v6h-18zM269 282h6v6h-6zM321 282h6v6h-6zM338 282h35v6h-35zM384 282h6v6h-6zM396 282h12v6h-12zM413 282h24v6h-24zM454 282h6v6h-6zM130 288h23v6h-23zM159 288h6v6h-6zM171 288h17v6h-17zM194 288h5v6h-5zM217 288h23v6h-23zM246 288h6v6h-6zM257 288h12v6h-12zM309 288h6v6h-6zM344 288h6v6h-6zM356 288h17v6h-17zM402 288h6v6h-6zM419 288h12v6h-12zM437 288h5v6h-5zM454 288h6v6h-6zM119 294h5v6h-5zM136 294h40v6h-40zM182 294h17v6h-17zM217 294h17v6h-17zM246 294h6v6h-6zM257 294h18v6h-18zM309 294h6v6h-6zM321 294h6v6h-6zM350 294h11v6h-11zM408 294h40v6h-40zM454 294h17v6h-17zM124 300h6v6h-6zM136 300h40v6h-40zM182 300h12v6h-12zM205 300h18v6h-18zM228 300h18v6h-18zM257 300h12v6h-12zM321 300h23v6h-23zM350 300h6v6h-6zM408 300h5v6h-5zM419 300h52v6h-52zM136 306h6v5h-6zM147 306h18v5h-18zM171 306h23v5h-23zM205 306h6v5h-6zM234 306h12v5h-12zM252 306h28v5h-28zM315 306h6v5h-6zM338 306h23v5h-23zM373 306h6v5h-6zM402 306h23v5h-23zM431 306h23v5h-23zM460 306h5v5h-5zM119 311h5v6h-5zM130 311h12v6h-12zM153 311h29v6h-29zM194 311h5v6h-5zM205 311h6v6h-6zM217 311h11v6h-11zM234 311h6v6h-6zM252 311h11v6h-11zM269 311h6v6h-6zM304 311h5v6h-5zM315 311h12v6h-12zM332 311h29v6h-29zM390 311h6v6h-6zM408 311h5v6h-5zM419 311h6v6h-6zM431 311h23v6h-23zM465 311h6v6h-6zM124 317h12v6h-12zM147 317h12v6h-12zM165 317h29v6h-29zM211 317h17v6h-17zM234 317h12v6h-12zM315 317h17v6h-17zM338 317h23v6h-23zM384 317h6v6h-6zM402 317h23v6h-23zM431 317h6v6h-6zM448 317h17v6h-17zM130 323h6v6h-6zM176 323h18v6h-18zM205 323h6v6h-6zM223 323h5v6h-5zM234 323h6v6h-6zM252 323h5v6h-5zM269 323h6v6h-6zM292 323h6v6h-6zM309 323h12v6h-12zM338 323h6v6h-6zM402 323h17v6h-17zM425 323h12v6h-12zM442 323h12v6h-12zM136 329h6v6h-6zM165 329h34v6h-34zM217 329h6v6h-6zM228 329h6v6h-6zM240 329h6v6h-6zM332 329h6v6h-6zM356 329h17v6h-17zM408 329h5v6h-5zM419 329h12v6h-12zM437 329h5v6h-5zM448 329h6v6h-6zM460 329h5v6h-5zM113 335h6v5h-6zM153 335h6v5h-6zM165 335h17v5h-17zM188 335h6v5h-6zM211 335h6v5h-6zM223 335h11v5h-11zM257 335h18v5h-18zM280 335h18v5h-18zM321 335h6v5h-6zM332 335h12v5h-12zM356 335h5v5h-5zM379 335h5v5h-5zM402 335h17v5h-17zM425 335h12v5h-12zM454 335h6v5h-6zM136 340h6v6h-6zM159 340h6v6h-6zM176 340h18v6h-18zM205 340h12v6h-12zM223 340h5v6h-5zM252 340h5v6h-5zM263 340h6v6h-6zM309 340h12v6h-12zM338 340h6v6h-6zM361 340h6v6h-6zM379 340h5v6h-5zM390 340h6v6h-6zM413 340h6v6h-6zM437 340h11v6h-11zM142 346h17v6h-17zM165 346h17v6h-17zM194 346h5v6h-5zM228 346h12v6h-12zM275 346h5v6h-5zM286 346h6v6h-6zM304 346h40v6h-40zM356 346h5v6h-5zM367 346h6v6h-6zM379 346h5v6h-5zM425 346h12v6h-12zM442 346h6v6h-6zM113 352h6v6h-6zM153 352h29v6h-29zM217 352h11v6h-11zM263 352h6v6h-6zM280 352h6v6h-6zM304 352h5v6h-5zM315 352h6v6h-6zM356 352h5v6h-5zM419 352h6v6h-6zM437 352h5v6h-5zM136 358h52v5h-52zM223 358h5v5h-5zM246 358h11v5h-11zM280 358h6v5h-6zM298 358h11v5h-11zM332 358h6v5h-6zM344 358h6v5h-6zM454 358h6v5h-6zM142 363h57v6h-57zM223 363h11v6h-11zM240 363h6v6h-6zM269 363h6v6h-6zM280 363h6v6h-6zM298 363h11v6h-11zM338 363h6v6h-6zM356 363h5v6h-5zM379 363h5v6h-5zM390 363h6v6h-6zM408 363h5v6h-5zM119 369h5v6h-5zM136 369h17v6h-17zM159 369h23v6h-23zM188 369h11v6h-11zM217 369h17v6h-17zM269 369h6v6h-6zM298 369h11v6h-11zM327 369h5v6h-5zM350 369h6v6h-6zM390 369h6v6h-6zM408 369h5v6h-5zM454 369h6v6h-6zM113 375h6v6h-6zM130 375h17v6h-17zM153 375h23v6h-23zM182 375h17v6h-17zM217 375h11v6h-11zM234 375h23v6h-23zM269 375h6v6h-6zM298 375h11v6h-11zM315 375h17v6h-17zM344 375h12v6h-12zM413 375h6v6h-6zM431 375h6v6h-6zM454 375h6v6h-6zM119 381h5v6h-5zM142 381h23v6h-23zM176 381h23v6h-23zM217 381h6v6h-6zM228 381h6v6h-6zM246 381h29v6h-29zM280 381h6v6h-6zM298 381h6v6h-6zM338 381h6v6h-6zM431 381h11v6h-11zM454 381h6v6h-6zM124 387h6v5h-6zM136 387h17v5h-17zM165 387h11v5h-11zM194 387h5v5h-5zM217 387h11v5h-11zM263 387h6v5h-6zM286 387h6v5h-6zM309 387h6v5h-6zM332 387h6v5h-6zM408 387h5v5h-5zM425 387h6v5h-6zM454 387h6v5h-6zM113 392h6v6h-6zM124 392h6v6h-6zM136 392h11v6h-11zM165 392h11v6h-11zM182 392h23v6h-23zM234 392h6v6h-6zM269 392h6v6h-6zM321 392h6v6h-6zM396 392h6v6h-6zM413 392h6v6h-6zM425 392h12v6h-12zM119 398h5v6h-5zM130 398h6v6h-6zM142 398h11v6h-11zM159 398h17v6h-17zM182 398h6v6h-6zM199 398h6v6h-6zM234 398h6v6h-6zM246 398h6v6h-6zM269 398h6v6h-6zM286 398h6v6h-6zM321 398h6v6h-6zM136 404h6v6h-6zM147 404h12v6h-12zM171 404h5v6h-5zM182 404h6v6h-6zM223 404h11v6h-11zM280 404h6v6h-6zM298 404h6v6h-6zM315 404h6v6h-6zM390 404h12v6h-12zM408 404h5v6h-5zM425 404h29v6h-29zM136 410h6v5h-6zM182 410h6v5h-6zM269 410h6v5h-6zM402 410h6v5h-6zM425 410h17v5h-17zM454 410h6v5h-6zM442 415h6v6h-6z"/>
<path fill="#73ff83" d="M292 58h12v5h-12zM309 58h6v5h-6zM113 63h34v6h-34zM176 63h6v6h-6zM280 63h6v6h-6zM292 63h6v6h-6zM315 63h6v6h-6zM327 63h5v6h-5zM356 63h5v6h-5zM373 63h6v6h-6zM413 63h6v6h-6zM431 63h11v6h-11zM448 63h6v6h-6zM176 69h12v5h-12zM286 69h12v5h-12zM309 69h6v5h-6zM321 69h11v5h-11zM350 69h6v5h-6zM361 69h23v5h-23zM413 69h35v5h-35zM460 69h5v5h-5zM113 74h6v6h-6zM124 74h6v6h-6zM159 74h6v6h-6zM292 74h6v6h-6zM309 74h6v6h-6zM344 74h6v6h-6zM396 74h41v6h-41zM442 74h18v6h-18zM113 80h11v6h-11zM136 80h6v6h-6zM269 80h11v6h-11zM286 80h6v6h-6zM384 80h6v6h-6zM396 80h6v6h-6zM408 80h5v6h-5zM419 80h29v6h-29zM454 80h6v6h-6zM130 86h6v6h-6zM176 86h6v6h-6zM246 86h6v6h-6zM309 86h6v6h-6zM344 86h6v6h-6zM373 86h6v6h-6zM413 86h6v6h-6zM437 86h5v6h-5zM454 86h6v6h-6zM113 92h6v5h-6zM298 92h6v5h-6zM332 92h6v5h-6zM373 92h6v5h-6zM460 92h5v5h-5zM471 92h7v5h-7zM176 97h6v6h-6zM292 97h6v6h-6zM460 97h5v6h-5zM176 103h6v6h-6zM292 103h6v6h-6zM321 103h6v6h-6zM431 103h6v6h-6zM136 109h6v6h-6zM367 109h6v6h-6zM471 109h7v6h-7zM113 115h6v6h-6zM147 115h6v6h-6zM286 115h6v6h-6zM332 115h6v6h-6zM390 115h6v6h-6zM448 115h6v6h-6zM471 115h7v6h-7zM153 121h6v5h-6zM252 121h5v5h-5zM292 121h6v5h-6zM350 121h6v5h-6zM373 121h6v5h-6zM113 126h6v6h-6zM252 126h5v6h-5zM413 126h6v6h-6zM113 132h6v6h-6zM130 132h6v6h-6zM147 132h6v6h-6zM176 132h6v6h-6zM292 132h6v6h-6zM379 132h17v6h-17zM408 132h5v6h-5zM437 132h5v6h-5zM448 132h6v6h-6zM113 138h11v6h-11zM130 138h6v6h-6zM142 138h11v6h-11zM159 138h6v6h-6zM176 138h6v6h-6zM292 138h6v6h-6zM304 138h11v6h-11zM379 138h17v6h-17zM402 138h6v6h-6zM119 144h5v6h-5zM136 144h40v6h-40zM280 144h6v6h-6zM292 144h6v6h-6zM344 144h6v6h-6zM356 144h5v6h-5zM367 144h17v6h-17zM390 144h6v6h-6zM413 144h6v6h-6zM425 144h6v6h-6zM448 144h12v6h-12zM199 150h12v5h-12zM217 150h6v5h-6zM246 150h6v5h-6zM356 150h5v5h-5zM217 155h6v6h-6zM402 155h6v6h-6zM419 155h6v6h-6zM448 155h6v6h-6zM205 161h6v6h-6zM304 161h5v6h-5zM338 161h6v6h-6zM390 161h6v6h-6zM408 161h17v6h-17zM442 161h6v6h-6zM454 161h6v6h-6zM315 167h12v6h-12zM332 167h6v6h-6zM361 167h6v6h-6zM384 167h6v6h-6zM408 167h5v6h-5zM419 167h12v6h-12zM454 167h6v6h-6zM223 173h5v5h-5zM234 173h6v5h-6zM269 173h11v5h-11zM332 173h6v5h-6zM361 173h6v5h-6zM402 173h11v5h-11zM419 173h6v5h-6zM442 173h6v5h-6zM454 173h6v5h-6zM471 173h7v5h-7zM107 178h6v6h-6zM228 178h6v6h-6zM396 178h6v6h-6zM425 178h6v6h-6zM437 178h5v6h-5zM471 178h7v6h-7zM269 184h11v6h-11zM309 184h6v6h-6zM361 184h6v6h-6zM309 190h6v6h-6zM396 190h6v6h-6zM309 196h6v6h-6zM396 196h6v6h-6zM454 196h6v6h-6zM107 202h6v5h-6zM384 202h6v5h-6zM408 202h5v5h-5zM454 202h11v5h-11zM361 207h6v6h-6zM413 207h6v6h-6zM448 207h12v6h-12zM107 213h6v6h-6zM292 213h6v6h-6zM390 213h6v6h-6zM454 213h6v6h-6zM252 219h5v6h-5zM356 219h5v6h-5zM396 219h6v6h-6zM425 219h6v6h-6zM437 219h11v6h-11zM396 225h6v5h-6zM448 225h6v5h-6zM113 230h6v6h-6zM315 230h6v6h-6zM338 230h6v6h-6zM413 230h6v6h-6zM425 230h6v6h-6zM442 230h6v6h-6zM315 236h6v6h-6zM327 236h5v6h-5zM194 242h11v6h-11zM211 242h6v6h-6zM223 242h11v6h-11zM332 242h6v6h-6zM379 242h5v6h-5zM402 242h11v6h-11zM425 242h12v6h-12zM448 242h12v6h-12zM171 248h11v6h-11zM188 248h11v6h-11zM280 248h6v6h-6zM361 248h6v6h-6zM460 248h5v6h-5zM471 248h7v6h-7zM159 254h17v5h-17zM217 254h6v5h-6zM292 254h6v5h-6zM379 254h5v5h-5zM437 254h5v5h-5zM448 254h6v5h-6zM460 254h5v5h-5zM471 254h7v5h-7zM107 259h6v6h-6zM159 259h6v6h-6zM194 259h5v6h-5zM217 259h6v6h-6zM315 259h6v6h-6zM379 259h11v6h-11zM413 259h6v6h-6zM425 259h6v6h-6zM471 259h7v6h-7zM124 265h6v6h-6zM142 265h5v6h-5zM153 265h6v6h-6zM171 265h5v6h-5zM199 265h12v6h-12zM356 265h5v6h-5zM373 265h11v6h-11zM408 265h11v6h-11zM442 265h23v6h-23zM107 271h6v6h-6zM136 271h6v6h-6zM194 271h5v6h-5zM228 271h6v6h-6zM315 271h17v6h-17zM402 271h6v6h-6zM460 271h5v6h-5zM136 277h11v5h-11zM153 277h6v5h-6zM182 277h23v5h-23zM252 277h5v5h-5zM321 277h6v5h-6zM356 277h5v5h-5zM379 277h5v5h-5zM402 277h6v5h-6zM465 277h6v5h-6zM142 282h5v6h-5zM194 282h11v6h-11zM211 282h6v6h-6zM223 282h5v6h-5zM257 282h6v6h-6zM286 282h6v6h-6zM327 282h5v6h-5zM373 282h11v6h-11zM465 282h6v6h-6zM199 288h6v6h-6zM275 288h5v6h-5zM286 288h12v6h-12zM321 288h23v6h-23zM350 288h6v6h-6zM379 288h11v6h-11zM408 288h5v6h-5zM442 288h12v6h-12zM460 288h5v6h-5zM471 288h7v6h-7zM130 294h6v6h-6zM176 294h6v6h-6zM199 294h6v6h-6zM234 294h6v6h-6zM252 294h5v6h-5zM315 294h6v6h-6zM327 294h5v6h-5zM344 294h6v6h-6zM361 294h6v6h-6zM379 294h5v6h-5zM396 294h12v6h-12zM448 294h6v6h-6zM130 300h6v6h-6zM194 300h11v6h-11zM246 300h6v6h-6zM309 300h12v6h-12zM344 300h6v6h-6zM361 300h6v6h-6zM384 300h6v6h-6zM396 300h12v6h-12zM130 306h6v5h-6zM142 306h5v5h-5zM194 306h5v5h-5zM286 306h6v5h-6zM327 306h5v5h-5zM361 306h6v5h-6zM396 306h6v5h-6zM454 306h6v5h-6zM465 306h6v5h-6zM124 311h6v6h-6zM199 311h6v6h-6zM228 311h6v6h-6zM240 311h6v6h-6zM275 311h5v6h-5zM309 311h6v6h-6zM327 311h5v6h-5zM379 311h5v6h-5zM396 311h6v6h-6zM413 311h6v6h-6zM425 311h6v6h-6zM460 311h5v6h-5zM113 317h11v6h-11zM142 317h5v6h-5zM159 317h6v6h-6zM194 317h5v6h-5zM228 317h6v6h-6zM252 317h23v6h-23zM292 317h6v6h-6zM309 317h6v6h-6zM332 317h6v6h-6zM390 317h12v6h-12zM442 317h6v6h-6zM465 317h6v6h-6zM119 323h11v6h-11zM136 323h17v6h-17zM194 323h5v6h-5zM228 323h6v6h-6zM257 323h12v6h-12zM327 323h5v6h-5zM460 323h11v6h-11zM124 329h6v6h-6zM153 329h6v6h-6zM199 329h12v6h-12zM223 329h5v6h-5zM246 329h11v6h-11zM292 329h6v6h-6zM304 329h11v6h-11zM327 329h5v6h-5zM338 329h6v6h-6zM396 329h12v6h-12zM431 329h6v6h-6zM442 329h6v6h-6zM454 329h6v6h-6zM465 329h6v6h-6zM119 335h5v5h-5zM159 335h6v5h-6zM182 335h6v5h-6zM199 335h6v5h-6zM217 335h6v5h-6zM234 335h23v5h-23zM298 335h6v5h-6zM309 335h12v5h-12zM327 335h5v5h-5zM344 335h6v5h-6zM361 335h12v5h-12zM396 335h6v5h-6zM419 335h6v5h-6zM442 335h12v5h-12zM460 335h5v5h-5zM165 340h11v6h-11zM194 340h11v6h-11zM217 340h6v6h-6zM228 340h18v6h-18zM257 340h6v6h-6zM304 340h5v6h-5zM321 340h17v6h-17zM344 340h17v6h-17zM396 340h6v6h-6zM419 340h6v6h-6zM431 340h6v6h-6zM448 340h17v6h-17zM159 346h6v6h-6zM182 346h12v6h-12zM199 346h29v6h-29zM240 346h6v6h-6zM257 346h12v6h-12zM298 346h6v6h-6zM344 346h6v6h-6zM361 346h6v6h-6zM390 346h6v6h-6zM419 346h6v6h-6zM437 346h5v6h-5zM448 346h17v6h-17zM188 352h17v6h-17zM211 352h6v6h-6zM228 352h12v6h-12zM257 352h6v6h-6zM298 352h6v6h-6zM309 352h6v6h-6zM321 352h11v6h-11zM338 352h12v6h-12zM390 352h6v6h-6zM425 352h12v6h-12zM442 352h18v6h-18zM465 352h6v6h-6zM188 358h17v5h-17zM211 358h6v5h-6zM228 358h6v5h-6zM240 358h6v5h-6zM257 358h18v5h-18zM309 358h6v5h-6zM327 358h5v5h-5zM338 358h6v5h-6zM361 358h12v5h-12zM384 358h6v5h-6zM396 358h6v5h-6zM419 358h35v5h-35zM460 358h11v5h-11zM136 363h6v6h-6zM211 363h12v6h-12zM234 363h6v6h-6zM246 363h23v6h-23zM275 363h5v6h-5zM309 363h12v6h-12zM327 363h11v6h-11zM344 363h12v6h-12zM413 363h58v6h-58zM113 369h6v6h-6zM130 369h6v6h-6zM240 369h12v6h-12zM257 369h12v6h-12zM280 369h6v6h-6zM315 369h12v6h-12zM332 369h6v6h-6zM344 369h6v6h-6zM356 369h5v6h-5zM413 369h41v6h-41zM460 369h11v6h-11zM228 375h6v6h-6zM257 375h6v6h-6zM275 375h11v6h-11zM309 375h6v6h-6zM332 375h12v6h-12zM419 375h6v6h-6zM437 375h11v6h-11zM460 375h5v6h-5zM113 381h6v6h-6zM130 381h12v6h-12zM165 381h6v6h-6zM223 381h5v6h-5zM234 381h6v6h-6zM286 381h12v6h-12zM304 381h17v6h-17zM327 381h11v6h-11zM344 381h12v6h-12zM408 381h11v6h-11zM425 381h6v6h-6zM460 381h11v6h-11zM113 387h6v5h-6zM130 387h6v5h-6zM153 387h12v5h-12zM176 387h6v5h-6zM188 387h6v5h-6zM234 387h6v5h-6zM246 387h6v5h-6zM257 387h6v5h-6zM269 387h17v5h-17zM298 387h11v5h-11zM315 387h17v5h-17zM338 387h12v5h-12zM356 387h5v5h-5zM413 387h12v5h-12zM431 387h23v5h-23zM460 387h11v5h-11zM130 392h6v6h-6zM147 392h6v6h-6zM159 392h6v6h-6zM176 392h6v6h-6zM228 392h6v6h-6zM240 392h6v6h-6zM252 392h17v6h-17zM275 392h11v6h-11zM298 392h6v6h-6zM309 392h6v6h-6zM327 392h17v6h-17zM350 392h11v6h-11zM402 392h11v6h-11zM437 392h34v6h-34zM113 398h6v6h-6zM124 398h6v6h-6zM153 398h6v6h-6zM188 398h11v6h-11zM217 398h17v6h-17zM240 398h6v6h-6zM257 398h12v6h-12zM280 398h6v6h-6zM304 398h5v6h-5zM315 398h6v6h-6zM327 398h23v6h-23zM356 398h5v6h-5zM373 398h6v6h-6zM396 398h6v6h-6zM408 398h11v6h-11zM425 398h23v6h-23zM454 398h17v6h-17zM119 404h17v6h-17zM142 404h5v6h-5zM159 404h12v6h-12zM176 404h6v6h-6zM188 404h17v6h-17zM217 404h6v6h-6zM234 404h23v6h-23zM269 404h11v6h-11zM304 404h11v6h-11zM321 404h11v6h-11zM338 404h18v6h-18zM402 404h6v6h-6zM419 404h6v6h-6zM454 404h17v6h-17zM119 410h5v5h-5zM130 410h6v5h-6zM142 410h23v5h-23zM171 410h5v5h-5zM194 410h5v5h-5zM217 410h40v5h-40zM275 410h5v5h-5zM298 410h17v5h-17zM321 410h23v5h-23zM390 410h12v5h-12zM408 410h11v5h-11zM442 410h12v5h-12zM460 410h11v5h-11zM119 415h5v6h-5zM136 415h17v6h-17zM165 415h11v6h-11zM182 415h17v6h-17zM217 415h6v6h-6zM240 415h6v6h-6zM269 415h11v6h-11zM298 415h6v6h-6zM315 415h12v6h-12zM332 415h6v6h-6zM390 415h6v6h-6zM431 415h11v6h-11zM448 415h12v6h-12zM119 421h5v7h-5zM275 421h5v7h-5zM396 421h6v7h-6zM419 421h6v7h-6z"/>
<path fill="#beff39" d="M119 58h11v5h-11zM142 58h5v5h-5zM159 58h6v5h-6zM176 58h6v5h-6zM246 58h6v5h-6zM257 58h18v5h-18zM280 58h12v5h-12zM315 58h17v5h-17zM350 58h6v5h-6zM367 58h6v5h-6zM379 58h5v5h-5zM390 58h6v5h-6zM402 58h6v5h-6zM419 58h12v5h-12zM454 58h17v5h-17zM107 63h6v6h-6zM182 63h17v6h-17zM379 63h5v6h-5zM107 69h6v5h-6zM194 69h5v5h-5zM454 69h6v5h-6zM107 80h6v6h-6zM182 80h6v6h-6zM292 80h6v6h-6zM344 80h6v6h-6zM402 80h6v6h-6zM460 86h5v6h-5zM471 86h7v6h-7zM107 92h6v5h-6zM292 92h6v5h-6zM107 103h6v6h-6zM471 103h7v6h-7zM176 109h6v6h-6zM384 115h6v6h-6zM269 121h6v5h-6zM286 121h6v5h-6zM384 121h6v5h-6zM413 121h6v5h-6zM292 126h6v6h-6zM107 132h6v6h-6zM182 132h6v6h-6zM107 138h6v6h-6zM136 138h6v6h-6zM471 138h7v6h-7zM124 144h12v6h-12zM176 144h6v6h-6zM350 144h6v6h-6zM384 144h6v6h-6zM408 144h5v6h-5zM419 144h6v6h-6zM431 144h6v6h-6zM257 155h6v6h-6zM384 155h6v6h-6zM263 161h12v6h-12zM384 161h6v6h-6zM425 161h6v6h-6zM402 167h6v6h-6zM442 167h6v6h-6zM471 167h7v6h-7zM309 173h6v5h-6zM425 173h6v5h-6zM275 178h5v6h-5zM396 184h6v6h-6zM454 184h6v6h-6zM223 207h5v6h-5zM384 207h6v6h-6zM460 207h5v6h-5zM384 213h6v6h-6zM460 213h5v6h-5zM454 219h6v6h-6zM228 225h6v5h-6zM390 230h6v6h-6zM292 236h6v6h-6zM396 236h6v6h-6zM431 236h6v6h-6zM107 242h6v6h-6zM130 242h6v6h-6zM188 242h6v6h-6zM257 242h6v6h-6zM292 242h6v6h-6zM286 248h6v6h-6zM199 254h6v5h-6zM321 254h6v5h-6zM413 254h6v5h-6zM292 259h6v6h-6zM321 259h6v6h-6zM408 259h5v6h-5zM107 265h6v6h-6zM465 265h6v6h-6zM199 271h6v6h-6zM286 271h6v6h-6zM465 271h6v6h-6zM107 277h6v5h-6zM471 277h7v5h-7zM315 282h6v6h-6zM471 282h7v6h-7zM315 288h6v6h-6zM292 294h6v6h-6zM332 294h6v6h-6zM471 294h7v6h-7zM379 300h5v6h-5zM471 300h7v6h-7zM124 306h6v5h-6zM199 306h6v5h-6zM471 306h7v5h-7zM113 311h6v6h-6zM211 311h6v6h-6zM361 311h6v6h-6zM471 311h7v6h-7zM304 317h5v6h-5zM471 317h7v6h-7zM199 323h6v6h-6zM304 323h5v6h-5zM396 323h6v6h-6zM471 323h7v6h-7zM142 329h5v6h-5zM211 329h6v6h-6zM234 329h6v6h-6zM321 329h6v6h-6zM384 329h6v6h-6zM413 329h6v6h-6zM471 329h7v6h-7zM390 335h6v5h-6zM246 340h6v6h-6zM384 340h6v6h-6zM402 340h11v6h-11zM425 340h6v6h-6zM465 340h6v6h-6zM246 346h6v6h-6zM269 346h6v6h-6zM292 346h6v6h-6zM350 346h6v6h-6zM384 346h6v6h-6zM396 346h6v6h-6zM465 346h6v6h-6zM136 352h6v6h-6zM205 352h6v6h-6zM240 352h6v6h-6zM252 352h5v6h-5zM269 352h6v6h-6zM292 352h6v6h-6zM350 352h6v6h-6zM361 352h6v6h-6zM384 352h6v6h-6zM234 358h6v5h-6zM275 358h5v5h-5zM286 358h12v5h-12zM315 358h12v5h-12zM350 358h6v5h-6zM379 358h5v5h-5zM413 358h6v5h-6zM292 363h6v6h-6zM321 363h6v6h-6zM361 363h6v6h-6zM384 363h6v6h-6zM471 363h7v6h-7zM234 369h6v6h-6zM252 369h5v6h-5zM275 369h5v6h-5zM292 369h6v6h-6zM309 369h6v6h-6zM338 369h6v6h-6zM384 369h6v6h-6zM471 369h7v6h-7zM292 375h6v6h-6zM384 375h6v6h-6zM408 375h5v6h-5zM465 375h13v6h-13zM124 381h6v6h-6zM199 381h6v6h-6zM321 381h6v6h-6zM119 387h5v5h-5zM182 387h6v5h-6zM240 387h6v5h-6zM252 387h5v5h-5zM350 387h6v5h-6zM361 387h6v5h-6zM402 387h6v5h-6zM471 387h7v5h-7zM217 392h11v6h-11zM286 392h12v6h-12zM304 392h5v6h-5zM315 392h6v6h-6zM344 392h6v6h-6zM361 392h6v6h-6zM379 392h11v6h-11zM136 398h6v6h-6zM275 398h5v6h-5zM298 398h6v6h-6zM350 398h6v6h-6zM361 398h6v6h-6zM384 398h6v6h-6zM402 398h6v6h-6zM419 398h6v6h-6zM448 398h6v6h-6zM107 404h12v6h-12zM211 404h6v6h-6zM286 404h6v6h-6zM332 404h6v6h-6zM356 404h11v6h-11zM384 404h6v6h-6zM124 410h6v5h-6zM165 410h6v5h-6zM176 410h6v5h-6zM188 410h6v5h-6zM211 410h6v5h-6zM257 410h12v5h-12zM315 410h6v5h-6zM344 410h6v5h-6zM356 410h5v5h-5zM384 410h6v5h-6zM419 410h6v5h-6zM124 415h6v6h-6zM153 415h12v6h-12zM176 415h6v6h-6zM211 415h6v6h-6zM223 415h17v6h-17zM246 415h17v6h-17zM304 415h5v6h-5zM384 415h6v6h-6zM396 415h12v6h-12zM413 415h18v6h-18zM460 415h11v6h-11zM136 421h6v7h-6zM182 421h6v7h-6zM194 421h5v7h-5zM217 421h6v7h-6zM240 421h6v7h-6zM315 421h6v7h-6zM344 421h6v7h-6zM390 421h6v7h-6zM413 421h6v7h-6z"/>
<path fill="#f1fc06" d="M113 58h6v5h-6zM130 58h6v5h-6zM165 58h11v5h-11zM252 58h5v5h-5zM275 58h5v5h-5zM332 58h6v5h-6zM361 58h6v5h-6zM431 58h11v5h-11zM344 69h6v5h-6zM396 69h6v5h-6zM460 80h5v6h-5zM107 97h6v6h-6zM471 97h7v6h-7zM471 132h7v6h-7zM107 144h6v6h-6zM286 150h12v5h-12zM367 150h6v5h-6zM130 155h6v6h-6zM408 155h5v6h-5zM373 161h6v6h-6zM379 178h5v6h-5zM454 178h6v6h-6zM471 190h7v6h-7zM194 230h5v6h-5zM448 230h6v6h-6zM448 236h6v6h-6zM171 242h5v6h-5zM442 242h6v6h-6zM471 242h7v6h-7zM142 248h5v6h-5zM321 265h6v6h-6zM292 271h6v6h-6zM309 306h6v5h-6zM384 306h6v5h-6zM292 311h6v6h-6zM275 317h5v6h-5zM113 323h6v6h-6zM257 329h6v6h-6zM379 329h5v6h-5zM147 335h6v5h-6zM205 335h6v5h-6zM437 335h5v5h-5zM471 340h7v6h-7zM471 352h7v6h-7zM130 358h6v5h-6zM471 358h7v5h-7zM402 363h6v6h-6zM361 369h6v6h-6zM384 381h6v6h-6zM402 381h6v6h-6zM471 381h7v6h-7zM211 398h6v6h-6zM252 398h5v6h-5zM292 398h6v6h-6zM292 404h6v6h-6zM113 410h6v5h-6zM471 410h7v5h-7zM263 415h6v6h-6zM309 415h6v6h-6zM327 415h5v6h-5zM408 415h5v6h-5zM130 421h6v7h-6zM142 421h5v7h-5zM153 421h6v7h-6zM171 421h5v7h-5zM188 421h6v7h-6zM228 421h6v7h-6zM280 421h6v7h-6zM292 421h6v7h-6zM321 421h11v7h-11zM367 421h6v7h-6zM460 421h5v7h-5z"/>
<path fill="#ffa700" d="M107 58h6v5h-6zM136 58h6v5h-6zM147 58h12v5h-12zM182 58h6v5h-6zM356 58h5v5h-5zM442 58h12v5h-12zM107 74h6v6h-6zM384 86h6v6h-6zM107 126h6v6h-6zM442 155h6v6h-6zM465 155h6v6h-6zM269 167h6v6h-6zM471 184h7v6h-7zM471 196h7v6h-7zM471 202h7v5h-7zM465 242h6v6h-6zM130 259h6v6h-6zM384 271h6v6h-6zM107 294h6v6h-6zM286 329h6v6h-6zM471 335h7v5h-7zM113 346h6v6h-6zM402 369h6v6h-6zM402 375h6v6h-6zM384 387h6v5h-6zM292 415h6v6h-6zM338 415h6v6h-6zM124 421h6v7h-6zM159 421h12v7h-12zM176 421h6v7h-6zM205 421h6v7h-6zM223 421h5v7h-5zM234 421h6v7h-6zM298 421h17v7h-17zM332 421h6v7h-6zM350 421h6v7h-6zM425 421h12v7h-12zM448 421h12v7h-12z"/>
<path fill="#ff4a00" d="M384 58h6v5h-6zM286 97h6v6h-6zM402 161h6v6h-6zM217 178h6v6h-6zM454 225h6v5h-6zM390 242h6v6h-6zM471 415h7v6h-7zM211 421h6v7h-6zM246 421h11v7h-11zM269 421h6v7h-6zM437 421h11v7h-11zM465 421h6v7h-6z"/>
<path fill="#f10800" d="M471 58h7v5h-7zM113 121h6v5h-6zM124 259h6v6h-6z"/>
<path fill="#800000" d="M419 392h6v6h-6zM361 421h6v7h-6z"/>
<path fill="#ffd000" d="M373 58h6v5h-6zM413 58h6v5h-6zM292 86h6v6h-6zM107 109h6v6h-6zM471 121h7v5h-7zM309 155h6v6h-6zM413 155h6v6h-6zM471 207h7v6h-7zM460 219h5v6h-5zM327 248h5v6h-5zM373 335h6v5h-6zM471 346h7v6h-7zM292 387h6v5h-6zM471 392h7v6h-7zM471 398h7v6h-7zM471 404h7v6h-7zM292 410h6v5h-6zM350 410h6v5h-6zM113 415h6v6h-6zM113 421h6v7h-6zM199 421h6v7h-6zM286 421h6v7h-6zM384 421h6v7h-6z"/>
<path fill="#0000c8" d="M211 74h6v6h-6zM205 80h6v6h-6zM280 184h6v6h-6zM408 248h5v6h-5z"/>
</g>
<rect x="107.5" y="58.5" width="370" height="369" fill="none" stroke="#000" stroke-width="1.11"/>
<path d="M110.5 428v4.6M168.5 428v4.6M226.5 428v4.6M283.5 428v4.6M341.5 428v4.6M399.5 428v4.6M457.5 428v4.6M107 424.5h-4.6M107 367.5h-4.6M107 309.5h-4.6M107 251.5h-4.6M107 193.5h-4.6M107 136.5h-4.6M107 78.5h-4.6" stroke="#000" stroke-width="1.11" fill="none"/>
<text class="t" x="106.77" y="448.25">0</text>
<text class="t" x="160.10 167.64" y="448.25">10</text>
<text class="t" x="217.15 225.29" y="448.25">20</text>
<text class="t" x="275.25 282.94" y="448.25">30</text>
<text class="t" x="333.35 340.79" y="448.25">40</text>
<text class="t" x="390.30 397.44" y="448.25">50</text>
<text class="t" x="448.15 456.99" y="448.25">60</text>
<text class="t" x="90.11" y="429.61">0</text>
<text class="t" x="80.03 87.76" y="371.86">10</text>
<text class="t" x="80.28 88.76" y="314.11">20</text>
<text class="t" x="80.13 87.86" y="257.36">30</text>
<text class="t" x="81.28 88.86" y="198.61">40</text>
<text class="t" x="80.13 87.86" y="140.86">50</text>
<text class="t" x="80.28 89.11" y="83.11">60</text>
<text class="ti" x="291.8" y="48.7" text-anchor="middle">Quadrant 2 DPH</text>
<text class="su" x="320.1" y="20.3" text-anchor="middle">Data file: modeM0/AS1A10_058T01_9000004298_29947cztM0_level2_quad_clean.evt</text>
<defs><linearGradient id="jet" gradientUnits="userSpaceOnUse" x1="0" y1="57.6" x2="0" y2="427.2"><stop offset="0" stop-color="#800000"/><stop offset="0.0455" stop-color="#800000"/><stop offset="0.0597" stop-color="#8d0000"/><stop offset="0.0739" stop-color="#9f0000"/><stop offset="0.0881" stop-color="#b20000"/><stop offset="0.1023" stop-color="#c40000"/><stop offset="0.1165" stop-color="#d60000"/><stop offset="0.1307" stop-color="#e80000"/><stop offset="0.1449" stop-color="#fa0f00"/><stop offset="0.1591" stop-color="#ff1e00"/><stop offset="0.1733" stop-color="#ff2d00"/><stop offset="0.1875" stop-color="#ff3b00"/><stop offset="0.2017" stop-color="#ff4a00"/><stop offset="0.2159" stop-color="#ff5900"/><stop offset="0.2301" stop-color="#ff6800"/><stop offset="0.2443" stop-color="#ff7700"/><stop offset="0.2585" stop-color="#ff8600"/><stop offset="0.2727" stop-color="#ff9400"/><stop offset="0.2869" stop-color="#ffa300"/><stop offset="0.3011" stop-color="#ffb200"/><stop offset="0.3153" stop-color="#ffc100"/><stop offset="0.3295" stop-color="#ffd000"/><stop offset="0.3438" stop-color="#ffde00"/><stop offset="0.3580" stop-color="#feed00"/><stop offset="0.3722" stop-color="#f1fc06"/><stop offset="0.3864" stop-color="#e4ff13"/><stop offset="0.4006" stop-color="#d7ff1f"/><stop offset="0.4148" stop-color="#caff2c"/><stop offset="0.4290" stop-color="#beff39"/><stop offset="0.4432" stop-color="#b1ff46"/><stop offset="0.4574" stop-color="#a4ff53"/><stop offset="0.4716" stop-color="#97ff60"/><stop offset="0.4858" stop-color="#8aff6d"/><stop offset="0.5000" stop-color="#7dff7a"/><stop offset="0.5142" stop-color="#70ff87"/><stop offset="0.5284" stop-color="#63ff94"/><stop offset="0.5426" stop-color="#56ffa0"/><stop offset="0.5568" stop-color="#49ffad"/><stop offset="0.5710" stop-color="#3cffba"/><stop offset="0.5852" stop-color="#30ffc7"/><stop offset="0.5994" stop-color="#23ffd4"/><stop offset="0.6136" stop-color="#16ffe1"/><stop offset="0.6278" stop-color="#09f0ee"/><stop offset="0.6420" stop-color="#00e0fb"/><stop offset="0.6562" stop-color="#00d0ff"/><stop offset="0.6705" stop-color="#00c0ff"/><stop offset="0.6847" stop-color="#00b0ff"/><stop offset="0.6989" stop-color="#00a0ff"/><stop offset="0.7131" stop-color="#0090ff"/><stop offset="0.7273" stop-color="#0080ff"/><stop offset="0.7415" stop-color="#0070ff"/><stop offset="0.7557" stop-color="#0060ff"/><stop offset="0.7699" stop-color="#0050ff"/><stop offset="0.7841" stop-color="#0040ff"/><stop offset="0.7983" stop-color="#0030ff"/><stop offset="0.8125" stop-color="#0020ff"/><stop offset="0.8267" stop-color="#0010ff"/><stop offset="0.8409" stop-color="#0000ff"/><stop offset="0.8551" stop-color="#0000ff"/><stop offset="0.8693" stop-color="#0000ed"/><stop offset="0.8835" stop-color="#0000da"/><stop offset="0.8977" stop-color="#0000c8"/><stop offset="0.9119" stop-color="#0000b6"/><stop offset="0.9261" stop-color="#0000a4"/><stop offset="0.9403" stop-color="#000092"/><stop offset="0.9545" stop-color="#000080"/><stop offset="1" stop-color="#000080"/></linearGradient></defs>
<path d="M501.6 74.4L510.0 57.6L518.4 74.4V410.4L510.0 427.2L501.6 410.4z" fill="url(#jet)"/>
<path d="M501.6 74.4L510.0 57.6L518.4 74.4V410.4L510.0 427.2L501.6 410.4z" fill="none" stroke="#000" stroke-width="1.11" stroke-linejoin="miter"/>
<path d="M518.9 410.5h4.7M518.9 355.5h4.7M518.9 300.5h4.7M518.9 245.5h4.7M518.9 189.5h4.7M518.9 134.5h4.7M518.9 79.5h4.7" stroke="#000" stroke-width="1.11" fill="none"/>
<text class="t" x="529.10" y="415.70">0</text>
<text class="t" x="528.90 536.94 545.77" y="361.26">100</text>
<text class="t" x="528.10 536.94 545.77" y="305.23">200</text>
<text class="t" x="528.10 535.94 544.77" y="249.99">300</text>
<text class="t" x="529.20 536.94 545.77" y="194.76">400</text>
<text class="t" x="528.10 535.94 544.77" y="139.52">500</text>
<text class="t" x="528.10 536.94 545.77" y="84.28">600</text>
</svg></body></html>
